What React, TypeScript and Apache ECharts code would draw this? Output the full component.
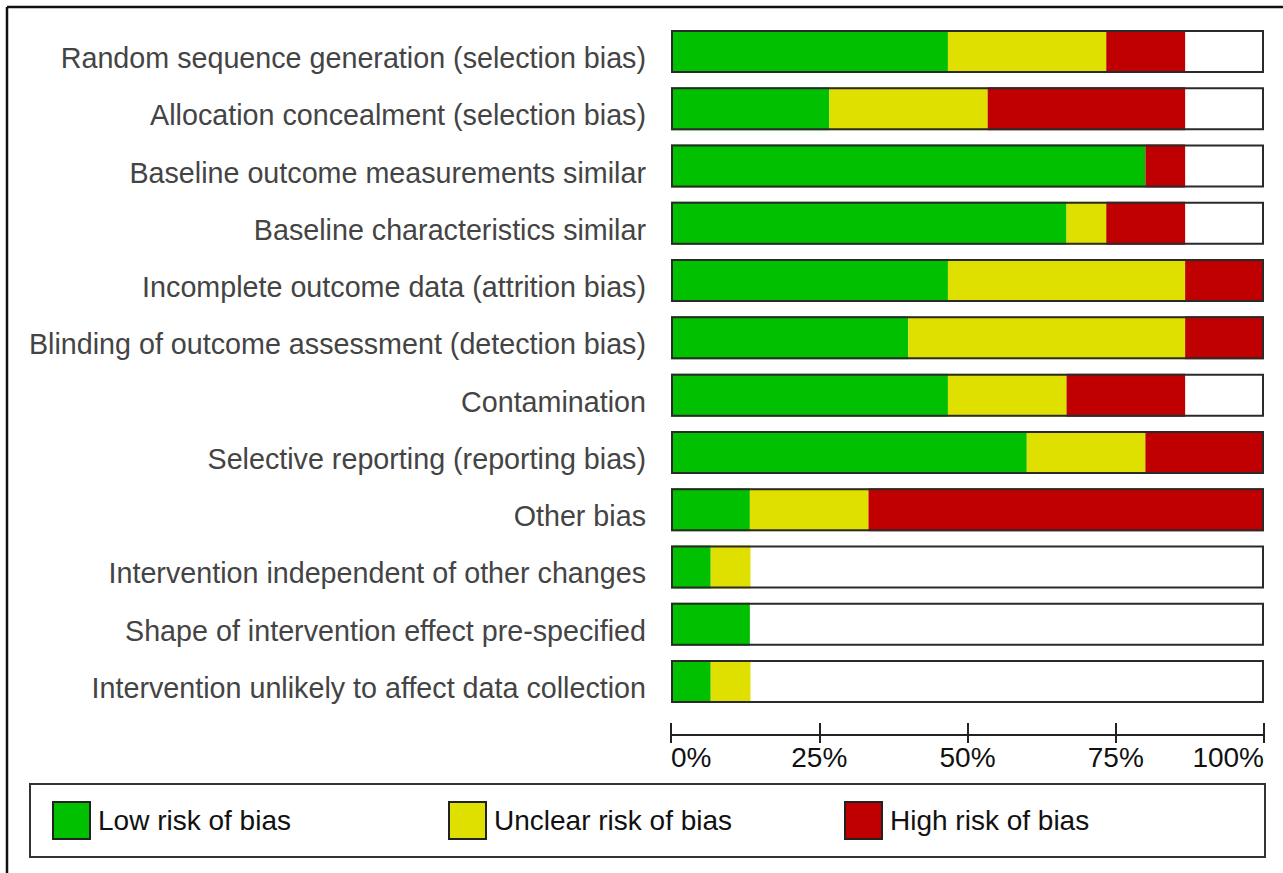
import React, { useEffect, useRef } from "react";
import * as echarts from "echarts";

const categories = [
  "Random sequence generation (selection bias)",
  "Allocation concealment (selection bias)",
  "Baseline outcome measurements similar",
  "Baseline characteristics similar",
  "Incomplete outcome data (attrition bias)",
  "Blinding of outcome assessment (detection bias)",
  "Contamination",
  "Selective reporting (reporting bias)",
  "Other bias",
  "Intervention independent of other changes",
  "Shape of intervention effect pre-specified",
  "Intervention unlikely to affect data collection",
];

const lowRisk = [46.7, 26.7, 80, 66.7, 46.7, 40, 46.7, 60, 13.3, 6.7, 13.3, 6.7];
const unclearRisk = [26.7, 26.7, 0, 6.7, 40, 46.7, 20, 20, 20, 6.7, 0, 6.7];
const highRisk = [13.3, 33.3, 6.7, 13.3, 13.3, 13.3, 20, 20, 66.7, 0, 0, 0];
const fullScale = [100, 100, 100, 100, 100, 100, 100, 100, 100, 100, 100, 100];

const seriesNames = ["Low risk of bias", "Unclear risk of bias", "High risk of bias"];
const seriesColors = ["#00C000", "#E0E000", "#C00000"];
const tickValues = [0, 25, 50, 75, 100];

export default function App() {
  const ref = useRef<HTMLDivElement>(null);

  useEffect(() => {
    if (!ref.current) return;
    const chart = echarts.init(ref.current, null, { renderer: "svg" });
    const font = "'Liberation Sans', Arial, sans-serif";
    const barW = 43;
    const stacked = [lowRisk, unclearRisk, highRisk].map((d, i) => ({
      name: seriesNames[i],
      type: "bar",
      stack: "risk",
      data: d,
      barWidth: barW,
      barGap: "-100%",
      itemStyle: { color: seriesColors[i] },
      silent: true,
      z: 2,
    }));
    chart.setOption({
      animation: false,
      backgroundColor: "#ffffff",
      grid: { left: 671, right: 19, top: 22.9, bottom: 162.9, containLabel: false },
      xAxis: [
        {
          type: "value",
          position: "bottom",
          min: 0,
          max: 100,
          interval: 25,
          offset: 25,
          axisLine: { show: true, lineStyle: { color: "#222", width: 2 } },
          axisTick: { show: true, inside: true, length: 12, lineStyle: { color: "#222", width: 2 } },
          splitLine: { show: false },
          axisLabel: {
            show: true,
            formatter: (v: number) => (tickValues.includes(v) ? v + "%" : ""),
            margin: 8,
            fontSize: 28,
            fontFamily: font,
            color: "#111",
            alignMinLabel: "left",
            alignMaxLabel: "right",
          },
        },
        {
          type: "value",
          position: "bottom",
          min: 0,
          max: 100,
          interval: 25,
          offset: 25,
          axisLine: { show: false },
          axisTick: { show: true, inside: false, length: 8, lineStyle: { color: "#222", width: 2 } },
          splitLine: { show: false },
          axisLabel: { show: false },
        },
      ],
      yAxis: {
        type: "category",
        data: categories,
        inverse: true,
        axisLine: { show: false },
        axisTick: { show: false },
        axisLabel: {
          margin: 25,
          fontSize: 28.7,
          fontFamily: font,
          color: "#444",
          verticalAlign: "top",
          lineHeight: 13,
        },
      },
      legend: {
        data: seriesNames,
        left: 30,
        top: 784,
        orient: "horizontal",
        padding: [17, 29, 17, 22],
        borderColor: "#333",
        borderWidth: 2,
        itemWidth: 37,
        itemHeight: 37,
        itemGap: 4,
        icon: "rect",
        selectedMode: false,
        itemStyle: { borderColor: "#222", borderWidth: 2 },
        textStyle: {
          fontSize: 28,
          fontFamily: font,
          color: "#111",
          width: 346,
          padding: [0, 0, 0, 3],
          lineHeight: 37,
        },
      },
      graphic: [
        { type: "line", shape: { x1: 7, y1: 7, x2: 1283, y2: 7 }, style: { stroke: "#111", lineWidth: 2.5 } },
        { type: "line", shape: { x1: 7, y1: 7, x2: 7, y2: 873 }, style: { stroke: "#111", lineWidth: 2.5 } },
      ],
      series: [
        ...stacked,
        {
          name: "outline",
          type: "bar",
          data: fullScale,
          barWidth: barW,
          barGap: "-100%",
          itemStyle: { color: "rgba(0,0,0,0)", borderColor: "#2a2a2a", borderWidth: 2 },
          silent: true,
          z: 3,
        },
      ],
    });
    return () => chart.dispose();
  }, []);

  return (
    <div
      ref={ref}
      style={{ position: "absolute", left: 0, top: 0, width: 1283, height: 873 }}
    />
  );
}
